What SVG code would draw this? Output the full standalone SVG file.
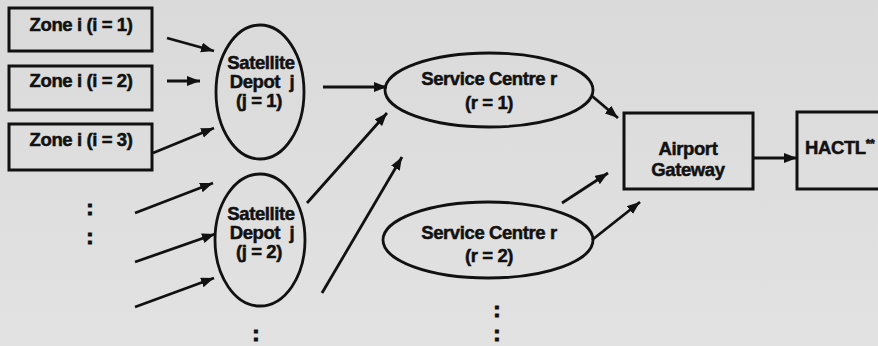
<svg xmlns="http://www.w3.org/2000/svg" width="878" height="346" viewBox="0 0 878 346">
  <defs>
    <marker id="arrow" markerUnits="userSpaceOnUse" markerWidth="14" markerHeight="11" refX="13" refY="5" orient="auto">
      <path d="M0,0 L13,5 L0,10 Z" fill="#111"/>
    </marker>
    <linearGradient id="paper" x1="0" y1="0" x2="0" y2="1">
      <stop offset="0" stop-color="#dadada"/>
      <stop offset="1" stop-color="#e2e2e2"/>
    </linearGradient>
  </defs>
  <style>
    .box { fill: none; stroke: #111; stroke-width: 3; }
    .oval { fill: none; stroke: #111; stroke-width: 2.8; }
    .lbl { font-family: "Liberation Sans", Arial, sans-serif; font-weight: bold; font-size: 18.5px; fill: #111; stroke: #111; stroke-width: 0.5; text-anchor: middle; letter-spacing: -0.4px; }
    .dots { font-family: "Liberation Sans", Arial, sans-serif; font-weight: bold; font-size: 22px; fill: #111; stroke: #111; stroke-width: 1; text-anchor: middle; }
    .edge { fill: none; stroke: #111; stroke-width: 2.8; marker-end: url(#arrow); }
  </style>

  <rect width="878" height="346" fill="url(#paper)"/>

  <!-- collection zones -->
  <g id="zone1">
    <rect class="box" x="9" y="8" width="143" height="43"/>
    <text class="lbl" x="81" y="31">Zone i (i = 1)</text>
  </g>
  <g id="zone2">
    <rect class="box" x="9" y="66" width="143" height="44"/>
    <text class="lbl" x="81" y="87">Zone i (i = 2)</text>
  </g>
  <g id="zone3">
    <rect class="box" x="9" y="124" width="143" height="46"/>
    <text class="lbl" x="81" y="146">Zone i (i = 3)</text>
  </g>
  <g id="zone-more">
    <text class="dots" x="90" y="215">:</text>
    <text class="dots" x="90" y="244">:</text>
  </g>

  <!-- satellite depots -->
  <g id="depot1">
    <ellipse class="oval" cx="260" cy="92" rx="44" ry="67"/>
    <text class="lbl" x="261" y="69">Satellite</text>
    <text class="lbl" x="262" y="88" xml:space="preserve">Depot  j</text>
    <text class="lbl" x="259" y="107">(j = 1)</text>
  </g>
  <g id="depot2">
    <ellipse class="oval" cx="260" cy="240" rx="45" ry="66"/>
    <text class="lbl" x="261" y="220">Satellite</text>
    <text class="lbl" x="262" y="239" xml:space="preserve">Depot  j</text>
    <text class="lbl" x="259" y="258">(j = 2)</text>
  </g>
  <g id="depot-more">
    <text class="dots" x="256" y="341">:</text>
  </g>

  <!-- service centres -->
  <g id="centre1">
    <ellipse class="oval" cx="489" cy="90" rx="104" ry="37"/>
    <text class="lbl" x="489" y="85">Service Centre r</text>
    <text class="lbl" x="489" y="109">(r = 1)</text>
  </g>
  <g id="centre2">
    <ellipse class="oval" cx="488" cy="240" rx="105" ry="38"/>
    <text class="lbl" x="489" y="239">Service Centre r</text>
    <text class="lbl" x="489" y="262">(r = 2)</text>
  </g>
  <g id="centre-more">
    <text class="dots" x="497" y="317">:</text>
    <text class="dots" x="497" y="341">:</text>
  </g>

  <!-- airport gateway and terminal -->
  <g id="gateway">
    <rect class="box" x="624" y="113" width="129" height="76"/>
    <text class="lbl" x="688" y="155">Airport</text>
    <text class="lbl" x="688" y="176">Gateway</text>
  </g>
  <g id="hactl">
    <rect class="box" x="797" y="112" width="100" height="77"/>
    <text class="lbl" x="805" y="154" style="text-anchor: start">HACTL<tspan font-size="12" dy="-6">**</tspan></text>
  </g>

  <!-- flows -->
  <g id="connectors">
    <line class="edge" x1="167" y1="38" x2="214" y2="51"/>
    <line class="edge" x1="167" y1="81" x2="200" y2="81"/>
    <line class="edge" x1="153" y1="153" x2="214" y2="128"/>
    <line class="edge" x1="135" y1="213" x2="213" y2="183"/>
    <line class="edge" x1="135" y1="262" x2="215" y2="234"/>
    <line class="edge" x1="135" y1="307" x2="214" y2="278"/>
    <line class="edge" x1="323" y1="87" x2="387" y2="87"/>
    <line class="edge" x1="307" y1="203" x2="387" y2="113"/>
    <line class="edge" x1="322" y1="293" x2="402" y2="157"/>
    <line class="edge" x1="592" y1="96" x2="618" y2="118"/>
    <line class="edge" x1="562" y1="203" x2="608" y2="173"/>
    <line class="edge" x1="592" y1="240" x2="640" y2="202"/>
    <line class="edge" x1="753" y1="158" x2="797" y2="158"/>
  </g>
</svg>
